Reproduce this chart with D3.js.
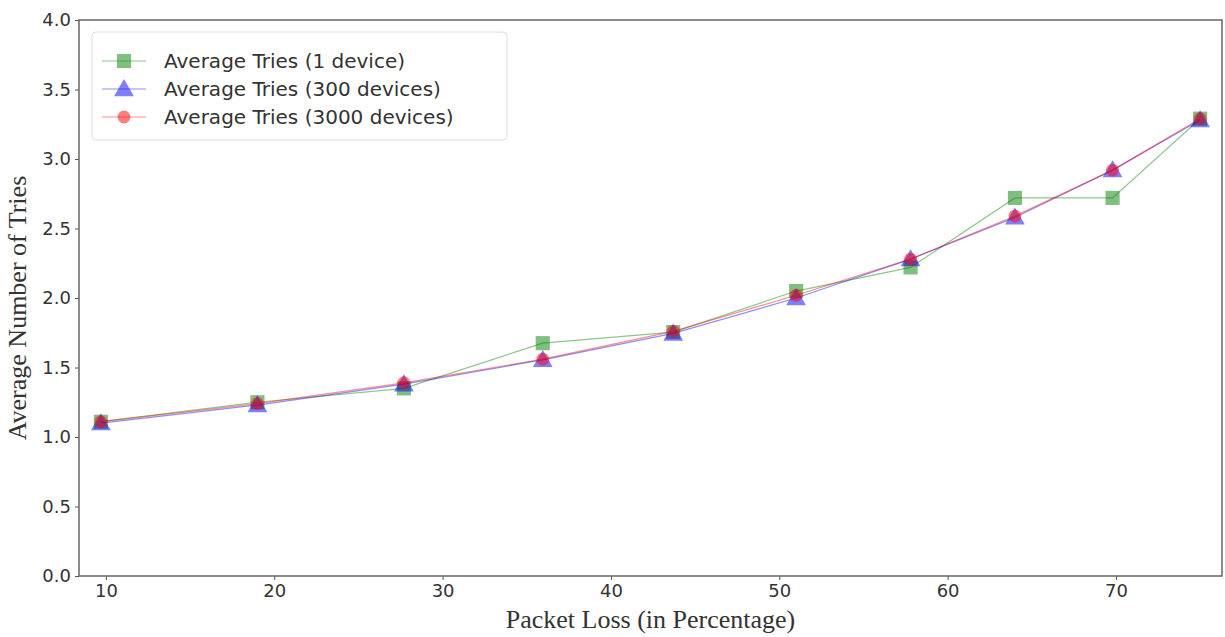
<!DOCTYPE html>
<html>
<head>
<meta charset="utf-8">
<script src="https://cdn.jsdelivr.net/npm/d3@7"></script>
<style>
  html, body { margin: 0; padding: 0; background: #fff; }
  svg { display: block; }
</style>
</head>
<body>
<svg id="chart" width="1225" height="637"></svg>
<script>
// Packet loss (%) at each measurement
const packetLoss = [9.7, 19.0, 27.7, 35.95, 43.7, 51.0, 57.8, 64.0, 69.8, 75.0];

// Average number of tries per run size
const tries1 = [1.11, 1.25, 1.35, 1.675, 1.755, 2.05, 2.22, 2.72, 2.72, 3.29];
const tries300 = [1.10, 1.23, 1.38, 1.555, 1.745, 2.00, 2.28, 2.58, 2.92, 3.28];
const tries3000 = [1.11, 1.24, 1.39, 1.56, 1.76, 2.02, 2.28, 2.59, 2.92, 3.29];

const seriesNames = ["Average Tries (1 device)", "Average Tries (300 devices)", "Average Tries (3000 devices)"];
const yTicks = [0.0, 0.5, 1.0, 1.5, 2.0, 2.5, 3.0, 3.5, 4.0];
const xTicks = [10, 20, 30, 40, 50, 60, 70];

const series = [
  { name: seriesNames[0], values: tries1, color: "#008000", shape: "square" },
  { name: seriesNames[1], values: tries300, color: "#0000ff", shape: "triangle" },
  { name: seriesNames[2], values: tries3000, color: "#ff0000", shape: "circle" }
];

const svg = d3.select("#chart");
const margin = { left: 79, right: 3, top: 20, bottom: 61 };
const W = 1225, H = 637;

const x = d3.scaleLinear().domain([8.4, 76.3]).range([margin.left, W - margin.right]);
const y = d3.scaleLinear().domain([0, 4]).range([H - margin.bottom, margin.top]);

const symbolFor = {
  square: d3.symbol().type(d3.symbolSquare).size(200),
  triangle: d3.symbol().type(d3.symbolTriangle).size(170),
  circle: d3.symbol().type(d3.symbolCircle).size(130)
};

// Axes
const xAxis = d3.axisBottom(x).tickValues(xTicks).tickFormat(d3.format("d")).tickSize(4).tickPadding(4);
const yAxis = d3.axisLeft(y).tickValues(yTicks).tickFormat(d3.format(".1f")).tickSize(4).tickPadding(4);

const gx = svg.append("g").attr("transform", `translate(0,${H - margin.bottom})`).call(xAxis);
const gy = svg.append("g").attr("transform", `translate(${margin.left},0)`).call(yAxis);
[gx, gy].forEach(g => {
  g.select(".domain").remove();
  g.selectAll(".tick line").attr("stroke", "#555");
  g.selectAll(".tick text")
    .attr("fill", "#333")
    .style("font-family", "'DejaVu Sans', sans-serif")
    .style("font-size", "18px");
});

// Frame
svg.append("rect")
  .attr("x", margin.left).attr("y", margin.top)
  .attr("width", W - margin.left - margin.right)
  .attr("height", H - margin.top - margin.bottom)
  .attr("fill", "none").attr("stroke", "#666").attr("stroke-width", 1.5);

// Lines and markers
const line = d3.line().x((d, i) => x(packetLoss[i])).y(d => y(d));
series.forEach(s => {
  const g = svg.append("g");
  g.append("path")
    .datum(s.values)
    .attr("d", line)
    .attr("fill", "none")
    .attr("stroke", s.color)
    .attr("stroke-opacity", 0.45)
    .attr("stroke-width", 1.2);
  g.selectAll("path.mark")
    .data(s.values)
    .join("path")
    .attr("class", "mark")
    .attr("d", symbolFor[s.shape])
    .attr("transform", (d, i) => `translate(${x(packetLoss[i])},${y(d) + (s.shape === "triangle" ? 1.5 : 0)})`)
    .attr("fill", s.color)
    .attr("fill-opacity", 0.5);
});

// Legend
const legend = svg.append("g").attr("transform", "translate(92,32)");
legend.append("rect")
  .attr("width", 415).attr("height", 108).attr("rx", 4)
  .attr("fill", "#fff").attr("fill-opacity", 0.85)
  .attr("stroke", "#ddd");
series.forEach((s, i) => {
  const cy = 29 + i * 28;
  legend.append("line")
    .attr("x1", 10).attr("x2", 54).attr("y1", cy).attr("y2", cy)
    .attr("stroke", s.color).attr("stroke-opacity", 0.45).attr("stroke-width", 1.2);
  legend.append("path")
    .attr("d", symbolFor[s.shape])
    .attr("transform", `translate(32,${cy + (s.shape === "triangle" ? 1.5 : 0)})`)
    .attr("fill", s.color).attr("fill-opacity", 0.5);
  legend.append("text")
    .attr("x", 72).attr("y", cy + 7)
    .attr("fill", "#333")
    .style("font-family", "'DejaVu Sans', sans-serif")
    .style("font-size", "20px")
    .text(s.name);
});

// Axis titles
svg.append("text")
  .attr("x", (margin.left + W - margin.right) / 2).attr("y", 628)
  .attr("text-anchor", "middle")
  .attr("fill", "#333")
  .style("font-family", "'Liberation Serif', 'Times New Roman', serif")
  .style("font-size", "26px")
  .text("Packet Loss (in Percentage)");

svg.append("text")
  .attr("transform", `translate(26,${(margin.top + H - margin.bottom) / 2 + 10}) rotate(-90)`)
  .attr("text-anchor", "middle")
  .attr("fill", "#333")
  .style("font-family", "'Liberation Serif', 'Times New Roman', serif")
  .style("font-size", "26px")
  .text("Average Number of Tries");
</script>
</body>
</html>
